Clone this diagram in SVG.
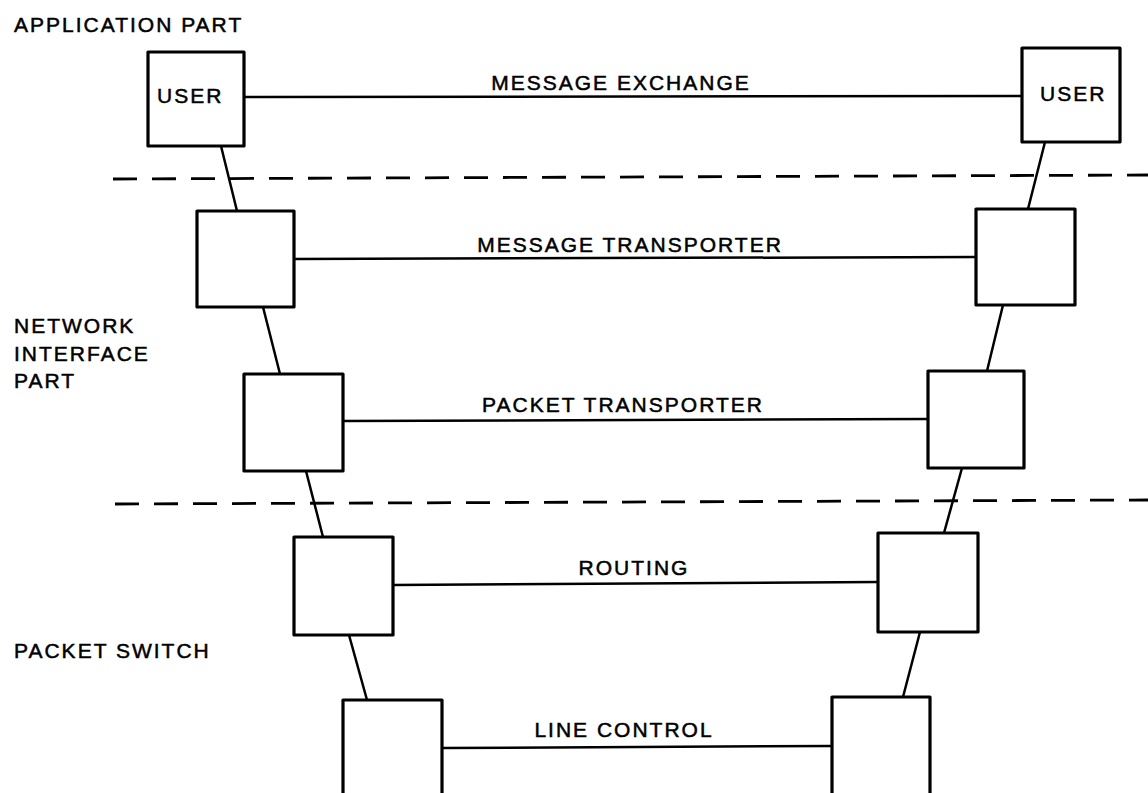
<svg xmlns="http://www.w3.org/2000/svg" width="1148" height="793" viewBox="0 0 1148 793">
<style>
.box{fill:#fff;stroke:#000;stroke-width:3.2;stroke-linejoin:round}
.conn line{stroke:#000;stroke-width:2.5;stroke-linecap:round}
.dash{stroke:#000;stroke-width:2.8;stroke-dasharray:24 15;fill:none}
text{font-family:"Liberation Sans",Arial,sans-serif;font-size:21px;fill:#000;stroke:#000;stroke-width:0.5;letter-spacing:2px}
.c{text-anchor:middle}
</style>
<rect width="1148" height="793" fill="#fff"/>
<g id="dividers">
<line class="dash" x1="113" y1="179" x2="1148" y2="175"/>
<line class="dash" x1="115" y1="504" x2="1148" y2="500"/>
</g>
<g id="layer-labels">
<text x="14" y="32">APPLICATION PART</text>
<text x="14" y="333">NETWORK</text>
<text x="14" y="361">INTERFACE</text>
<text x="14" y="388">PART</text>
<text x="14" y="658">PACKET SWITCH</text>
</g>
<g class="conn" id="connectors">
<line x1="244" y1="97" x2="1022" y2="96"/>
<line x1="294" y1="259" x2="976" y2="257"/>
<line x1="343" y1="421" x2="928" y2="419"/>
<line x1="393" y1="585" x2="878" y2="582"/>
<line x1="442" y1="748" x2="832" y2="746"/>
<line x1="221" y1="146" x2="237" y2="211"/>
<line x1="263" y1="307" x2="280" y2="374"/>
<line x1="306" y1="471" x2="323" y2="537"/>
<line x1="349" y1="635" x2="367" y2="700"/>
<line x1="1045" y1="142" x2="1028" y2="209"/>
<line x1="1003" y1="305" x2="987" y2="371"/>
<line x1="962" y1="468" x2="944" y2="533"/>
<line x1="920" y1="632" x2="903" y2="697"/>
</g>
<g id="connector-labels">
<text class="c" x="621" y="90">MESSAGE EXCHANGE</text>
<text class="c" x="630" y="252">MESSAGE TRANSPORTER</text>
<text class="c" x="623" y="412">PACKET TRANSPORTER</text>
<text class="c" x="634" y="575">ROUTING</text>
<text class="c" x="624" y="737">LINE CONTROL</text>
</g>
<g id="user-left"><rect class="box" x="148" y="52" width="96" height="94"/><text x="157" y="103" letter-spacing="1.5">USER</text></g>
<g id="msg-transporter-left"><rect class="box" x="197" y="211" width="97" height="96"/></g>
<g id="pkt-transporter-left"><rect class="box" x="244" y="374" width="99" height="97"/></g>
<g id="routing-left"><rect class="box" x="294" y="537" width="99" height="98"/></g>
<g id="line-control-left"><rect class="box" x="343" y="700" width="99" height="110"/></g>
<g id="user-right"><rect class="box" x="1022" y="48" width="98" height="94"/><text x="1040" y="101" letter-spacing="1.5">USER</text></g>
<g id="msg-transporter-right"><rect class="box" x="976" y="209" width="99" height="96"/></g>
<g id="pkt-transporter-right"><rect class="box" x="928" y="371" width="96" height="97"/></g>
<g id="routing-right"><rect class="box" x="878" y="533" width="100" height="99"/></g>
<g id="line-control-right"><rect class="box" x="832" y="697" width="98" height="113"/></g>
</svg>
